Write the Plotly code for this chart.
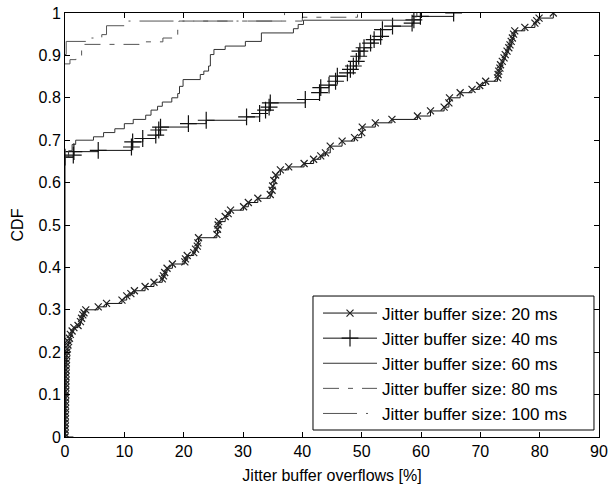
import plotly.graph_objects as go

# ---- data (x: overflow %, y: CDF) ----
x_20ms = [0.0, 0.0, 0.02, 0.03, 0.04, 0.05, 0.06, 0.07, 0.08, 0.09, 0.1, 0.1, 0.11, 0.12, 0.13, 0.14,
          0.15, 0.16, 0.17, 0.18, 0.2, 0.22, 0.25, 0.28, 0.32, 0.4, 0.5, 0.6, 0.75, 0.9, 1.2, 1.5,
          2.2, 2.6, 2.8, 3.0, 3.2, 3.5, 5.6, 7.0, 9.6, 10.4, 11.1, 11.7, 13.5, 15.0, 16.4, 16.6,
          16.8, 17.2, 18.1, 20.2, 20.3, 20.6, 21.7, 22.0, 22.3, 22.4, 22.5, 25.6, 25.7, 25.8, 25.9,
          27.0, 27.5, 27.9, 30.1, 30.9, 32.5, 34.6, 34.9, 35.0, 35.2, 35.5, 36.3, 37.7, 40.3, 41.9,
          43.1, 43.9, 44.7, 46.7, 48.8, 50.0, 50.1, 52.3, 55.1, 59.4, 61.6, 63.9, 64.7, 64.8, 66.6,
          68.6, 69.9, 70.9, 72.9, 73.0, 73.1, 73.3, 73.4, 73.7, 74.0, 74.2, 74.5, 74.8, 75.0, 75.2,
          75.4, 75.6, 75.8, 77.5, 79.2, 79.5, 79.9, 82.3]
y_20ms = [0.0, 0.008, 0.017, 0.025, 0.033, 0.042, 0.05, 0.058, 0.067, 0.075, 0.083, 0.092, 0.1, 0.108,
          0.117, 0.125, 0.133, 0.142, 0.15, 0.158, 0.167, 0.175, 0.183, 0.192, 0.2, 0.208, 0.217,
          0.225, 0.233, 0.242, 0.25, 0.258, 0.263, 0.272, 0.28, 0.288, 0.293, 0.3, 0.307, 0.315,
          0.323, 0.333, 0.338, 0.345, 0.355, 0.365, 0.373, 0.38, 0.388, 0.398, 0.408, 0.413, 0.42,
          0.428, 0.435, 0.443, 0.45, 0.458, 0.47, 0.478, 0.49, 0.5, 0.508, 0.52, 0.527, 0.535, 0.543,
          0.553, 0.563, 0.572, 0.582, 0.592, 0.605, 0.618, 0.63, 0.637, 0.645, 0.655, 0.663, 0.67,
          0.686, 0.698, 0.706, 0.718, 0.731, 0.741, 0.749, 0.757, 0.769, 0.778, 0.788, 0.8, 0.812,
          0.82, 0.829, 0.839, 0.847, 0.855, 0.863, 0.87, 0.878, 0.886, 0.894, 0.902, 0.91, 0.918,
          0.925, 0.933, 0.941, 0.95, 0.958, 0.966, 0.976, 0.982, 0.988, 1.0]

x_40ms = [0.0, 0.0, 1.4, 1.5, 5.6, 11.2, 11.4, 13.1, 15.3, 15.8, 16.1, 20.8, 23.8, 30.6, 32.8, 33.8,
          34.4, 34.6, 40.5, 42.9, 43.1, 44.5, 45.6, 45.9, 47.6, 48.1, 48.6, 49.1, 49.5, 49.7, 50.4,
          51.5, 52.1, 53.2, 53.5, 55.2, 58.5, 58.8, 59.9, 65.5]
y_40ms = [0.0, 0.66, 0.665, 0.673, 0.676, 0.684, 0.696, 0.704, 0.712, 0.724, 0.731, 0.739, 0.747,
          0.755, 0.763, 0.771, 0.778, 0.788, 0.796, 0.812, 0.824, 0.83, 0.839, 0.851, 0.859, 0.867,
          0.875, 0.886, 0.898, 0.91, 0.918, 0.929, 0.937, 0.945, 0.961, 0.969, 0.976, 0.984, 0.992,
          1.0]

x_60ms = [0.0, 0.6, 1.2, 1.8, 4.8, 6.5, 8.4, 10.0, 11.5, 13.6, 14.5, 15.6, 16.4, 18.0, 19.0, 19.3,
          19.9, 22.8, 23.4, 24.2, 24.5, 25.1, 27.0, 30.4, 33.1, 38.5, 39.3, 40.2, 58.8, 59.3]
y_60ms = [0.66, 0.675, 0.69, 0.70, 0.708, 0.718, 0.727, 0.739, 0.749, 0.759, 0.771, 0.78, 0.79, 0.8,
          0.81, 0.827, 0.843, 0.855, 0.863, 0.875, 0.902, 0.914, 0.922, 0.933, 0.953, 0.963, 0.973,
          0.983, 0.991, 1.0]

x_80ms = [0.0, 0.84, 1.85, 2.8, 12.5, 16.5, 19.0, 19.2, 40.0, 49.3]
y_80ms = [0.88, 0.89, 0.898, 0.926, 0.932, 0.941, 0.96, 0.981, 0.99, 1.0]

x_100ms = [0.0, 0.2, 3.5, 6.2, 7.0, 10.7, 37.0]
y_100ms = [0.902, 0.933, 0.941, 0.949, 0.970, 0.981, 1.0]

names = ["Jitter buffer size: 20 ms", "Jitter buffer size: 40 ms", "Jitter buffer size: 60 ms",
         "Jitter buffer size: 80 ms", "Jitter buffer size: 100 ms"]

x_ticks = [0, 10, 20, 30, 40, 50, 60, 70, 80, 90]
y_ticks = [0, 0.1, 0.2, 0.3, 0.4, 0.5, 0.6, 0.7, 0.8, 0.9, 1]

FONT = "Liberation Sans, Arial, Helvetica, sans-serif"

fig = go.Figure()
fig.add_trace(go.Scatter(x=x_20ms, y=y_20ms, name=names[0], mode="lines+markers",
                         line=dict(shape="hv", color="#111", width=1),
                         marker=dict(symbol="x-thin-open", size=7, color="#222",
                                     line=dict(width=1.2, color="#222"))))
fig.add_trace(go.Scatter(x=x_40ms, y=y_40ms, name=names[1], mode="lines+markers",
                         line=dict(shape="hv", color="#111", width=1),
                         marker=dict(symbol="cross-thin-open", size=12, color="#111",
                                     line=dict(width=1.2, color="#111"))))
fig.add_trace(go.Scatter(x=x_60ms, y=y_60ms, name=names[2], mode="lines",
                         line=dict(shape="hv", color="#333", width=1)))
fig.add_trace(go.Scatter(x=x_80ms, y=y_80ms, name=names[3], mode="lines",
                         line=dict(shape="hv", color="#555", width=1, dash="16px,9px,5px,9px")))
fig.add_trace(go.Scatter(x=x_100ms, y=y_100ms, name=names[4], mode="lines",
                         line=dict(shape="hv", color="#555", width=1, dash="34px,9px,2px,9px")))

axis_common = dict(showline=True, linecolor="black", linewidth=1, mirror="ticks",
                   ticks="inside", ticklen=5, tickcolor="black", tickwidth=1,
                   showgrid=False, zeroline=False, automargin=False,
                   tickfont=dict(family=FONT, size=16, color="black"))

fig.update_xaxes(range=[0, 90], tickvals=x_ticks, ticktext=[str(v) for v in x_ticks],
                 title=dict(text="Jitter buffer overflows [%]", standoff=10,
                            font=dict(family=FONT, size=16, color="black")),
                 **axis_common)
fig.update_yaxes(range=[0, 1], tickvals=y_ticks, ticktext=[f"{v:g}" for v in y_ticks],
                 title=dict(text="CDF", standoff=10,
                            font=dict(family=FONT, size=16, color="black")),
                 **axis_common)

# legend frame (MATLAB-style box, wider than the text)
fig.add_shape(type="rect", xref="paper", yref="paper",
              x0=0.4644, x1=0.9906, y0=0.0165, y1=0.3325,
              line=dict(color="black", width=1), fillcolor="white", layer="above")

fig.update_layout(
    width=610, height=488,
    margin=dict(l=65, r=11, t=13, b=51),
    paper_bgcolor="white", plot_bgcolor="white",
    font=dict(family=FONT, size=16, color="black"),
    showlegend=True,
    legend=dict(x=0.4738, y=0.3337, xanchor="left", yanchor="top",
                bgcolor="rgba(0,0,0,0)", borderwidth=0,
                font=dict(family=FONT, size=17, color="black"),
                itemwidth=54, tracegroupgap=0),
)

fig.write_html("out.html")
